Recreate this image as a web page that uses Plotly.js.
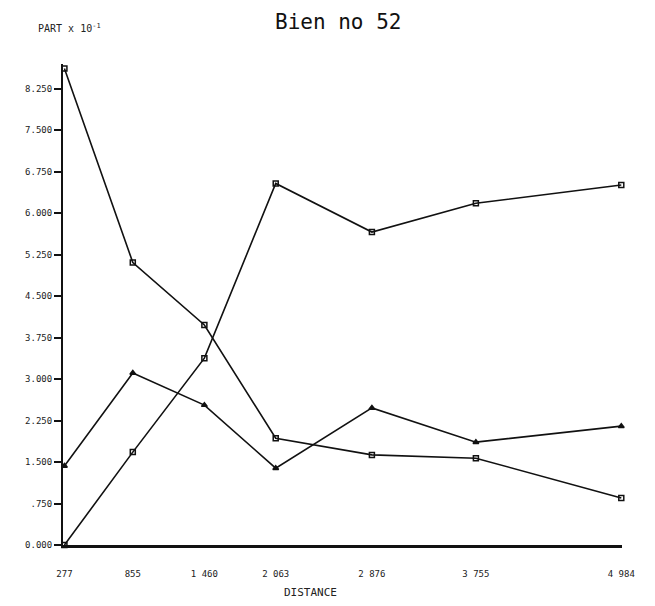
<!DOCTYPE html>
<html>
<head>
<meta charset="utf-8">
<script src="https://cdn.plot.ly/plotly-3.0.1.min.js"></script>
<style>html,body{margin:0;padding:0;background:#fff;}#chart{width:655px;height:606px;}</style>
</head>
<body>
<div id="chart"></div>
<script>
var distance = [277, 855, 1460, 2063, 2876, 3755, 4984];
var tickLabels = ["277", "855", "1 460", "2 063", "2 876", "3 755", "4 984"];
var seriesA = [8.62, 5.11, 3.98, 1.93, 1.63, 1.57, 0.85];
var seriesB = [0.00, 1.68, 3.38, 6.54, 5.66, 6.18, 6.51];
var seriesC = [1.43, 3.11, 2.53, 1.39, 2.48, 1.86, 2.15];
var yTickVals = [0, 0.75, 1.5, 2.25, 3, 3.75, 4.5, 5.25, 6, 6.75, 7.5, 8.25];
var yTickText = ["0.000", ".750", "1.500", "2.250", "3.000", "3.750", "4.500", "5.250", "6.000", "6.750", "7.500", "8.250"];

function tr(y, sym) {
  return {
    x: distance, y: y, type: 'scatter', mode: 'lines+markers', cliponaxis: false,
    line: {color: '#111', width: 1.6},
    marker: {symbol: sym, size: 5, color: '#111', line: {color: '#111', width: 1.5}},
    showlegend: false, hoverinfo: 'skip'
  };
}

var data = [tr(seriesA, 'square-open'), tr(seriesB, 'square-open'), tr(seriesC, 'triangle-up')];

var layout = {
  width: 655, height: 606,
  margin: {l: 63, r: 33, t: 64, b: 61},
  paper_bgcolor: '#fff', plot_bgcolor: '#fff',
  showlegend: false,
  xaxis: {
    range: [265, 4990], showgrid: false, zeroline: false,
    showline: true, linecolor: '#111', linewidth: 3,
    tickmode: 'array', tickvals: distance, ticktext: tickLabels,
    ticks: '', ticklabelstandoff: 18,
    tickfont: {family: 'DejaVu Sans Mono', size: 9, color: '#222'}
  },
  yaxis: {
    range: [0, 8.7], showgrid: false, zeroline: false,
    showline: true, linecolor: '#111', linewidth: 2,
    tickmode: 'array', tickvals: yTickVals, ticktext: yTickText,
    ticks: 'outside', ticklen: 7, tickwidth: 2, tickcolor: '#111',
    tickfont: {family: 'DejaVu Sans Mono', size: 9, color: '#222'}
  },
  annotations: [
    {text: 'Bien no 52', xref: 'paper', yref: 'paper', x: 0.492, y: 1, yshift: 42,
     xanchor: 'center', yanchor: 'middle', showarrow: false,
     font: {family: 'DejaVu Sans Mono', size: 21, color: '#111'}},
    {text: 'PART x 10<sup>-1</sup>', xref: 'paper', yref: 'paper', x: 0.012, y: 1, yshift: 36,
     xanchor: 'center', yanchor: 'middle', showarrow: false,
     font: {family: 'DejaVu Sans Mono', size: 10, color: '#222'}},
    {text: 'DISTANCE', xref: 'paper', yref: 'paper', x: 0.443, y: 0, yshift: -47,
     xanchor: 'center', yanchor: 'middle', showarrow: false,
     font: {family: 'DejaVu Sans Mono', size: 11, color: '#222'}}
  ]
};

Plotly.newPlot('chart', data, layout, {displayModeBar: false, staticPlot: true});
</script>
</body>
</html>
